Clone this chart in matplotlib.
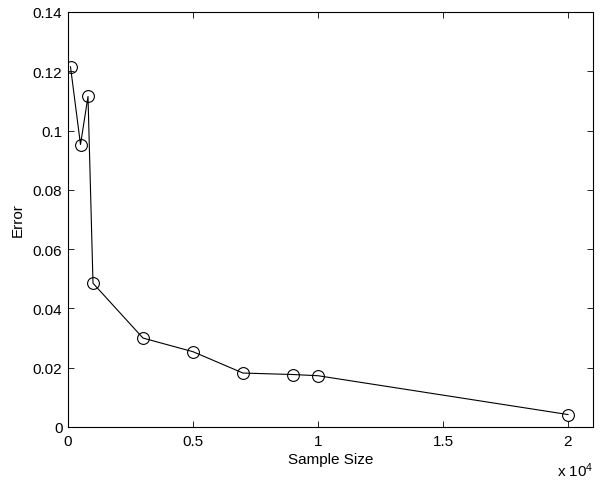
import matplotlib
matplotlib.use("Agg")
import matplotlib.pyplot as plt
from matplotlib.ticker import FuncFormatter

# values
sample_size = [100, 500, 800, 1000, 3000, 5000, 7000, 9000, 10000, 20000]
error = [0.1215, 0.0953, 0.1115, 0.0485, 0.0300, 0.0254, 0.0182, 0.0177, 0.0173, 0.0042]
x_ticks = [0, 5000, 10000, 15000, 20000]
y_ticks = [0, 0.02, 0.04, 0.06, 0.08, 0.10, 0.12, 0.14]

plt.rcParams["font.family"] = ["Liberation Sans", "DejaVu Sans"]
plt.rcParams["mathtext.default"] = "regular"
plt.rcParams["font.size"] = 11

fig = plt.figure(figsize=(6.02, 4.85), dpi=100)
ax = fig.add_axes([68 / 602, 57 / 485, 525 / 602, 415 / 485])

ax.plot(sample_size, error, color="black", linewidth=0.8,
        marker="o", markersize=8.5, markerfacecolor="none",
        markeredgecolor="black", markeredgewidth=0.8)

ax.set_xlim(0, 21000)
ax.set_ylim(0, 0.14)
ax.set_xticks(x_ticks)
ax.set_yticks(y_ticks)
ax.xaxis.set_major_formatter(FuncFormatter(lambda v, p: f"{v / 1e4:g}"))
ax.yaxis.set_major_formatter(FuncFormatter(lambda v, p: f"{v:g}"))
ax.tick_params(direction="in", length=4, width=0.6, top=True, right=True,
               labelsize=11)
ax.tick_params(axis="x", pad=5)
ax.tick_params(axis="y", pad=4)
for s in ax.spines.values():
    s.set_linewidth(0.8)

ax.set_xlabel("Sample Size", fontsize=11, labelpad=3)
ax.set_ylabel("Error", fontsize=11, labelpad=6)
ax.text(1.0, -0.08, r"x 10$^{4}$", transform=ax.transAxes,
        ha="right", va="top", fontsize=11)

fig.savefig("out.png", dpi=100)
